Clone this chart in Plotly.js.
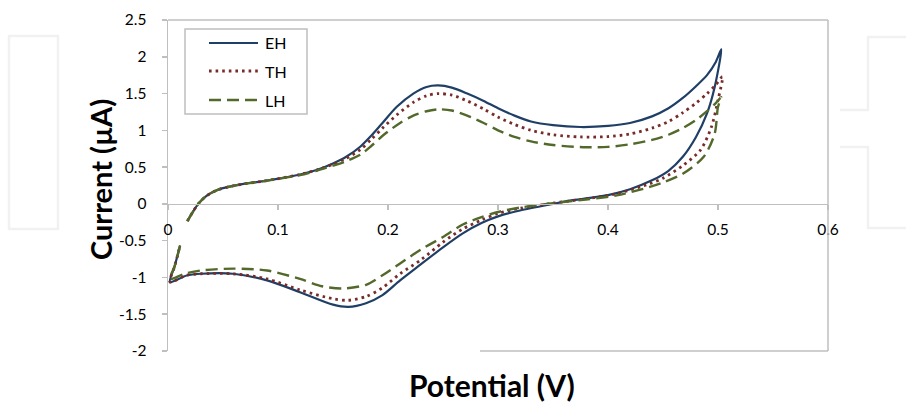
<!DOCTYPE html>
<html>
<head>
<meta charset="utf-8">
<script src="https://cdn.plot.ly/plotly-3.0.1.min.js"></script>
<style>html,body{margin:0;padding:0;background:#fff;}#chart{width:906px;height:402px;}</style>
</head>
<body>
<div id="chart"></div>
<script>
// ---- data (potential in V, current in µA) ----
const seriesNames = ["EH", "TH", "LH"];

const ehV = [0.0176,0.0275,0.035,0.045,0.056,0.070,0.085,0.099,0.120,0.135,0.150,0.162,0.175,0.185,0.195,0.208,0.223,0.235,0.2457,0.258,0.272,0.287,0.300,0.315,0.330,0.350,0.375,0.400,0.420,0.440,0.455,0.468,0.480,0.490,0.498,0.503,
             0.497,0.490,0.480,0.468,0.455,0.440,0.420,0.400,0.368,0.350,0.320,0.300,0.285,0.268,0.250,0.230,0.211,0.195,0.180,0.164,0.150,0.120,0.090,0.059,0.030,0.017,0.0018,0.006,0.011];
const ehI = [-0.234,0.0,0.11,0.19,0.235,0.275,0.305,0.34,0.40,0.46,0.55,0.64,0.78,0.93,1.10,1.32,1.50,1.59,1.61,1.58,1.50,1.40,1.30,1.20,1.12,1.07,1.045,1.06,1.10,1.19,1.30,1.44,1.60,1.75,1.93,2.10,
             1.59,1.23,0.91,0.64,0.45,0.32,0.20,0.12,0.05,0.0,-0.09,-0.17,-0.26,-0.40,-0.59,-0.82,-1.04,-1.24,-1.35,-1.40,-1.37,-1.20,-1.04,-0.95,-0.95,-0.973,-1.064,-0.85,-0.565];

const thV = [0.0176,0.0275,0.035,0.045,0.056,0.070,0.085,0.099,0.120,0.135,0.150,0.162,0.175,0.185,0.195,0.208,0.223,0.235,0.2457,0.258,0.272,0.287,0.300,0.315,0.330,0.350,0.375,0.400,0.420,0.440,0.455,0.468,0.480,0.490,0.498,0.504,
             0.500,0.494,0.484,0.468,0.450,0.438,0.408,0.380,0.350,0.320,0.300,0.285,0.268,0.250,0.230,0.211,0.195,0.180,0.164,0.150,0.120,0.090,0.059,0.030,0.017,0.0018,0.006,0.011];
const thI = [-0.234,0.0,0.11,0.19,0.235,0.275,0.305,0.34,0.40,0.46,0.54,0.62,0.74,0.88,1.03,1.21,1.38,1.47,1.50,1.48,1.40,1.29,1.18,1.08,1.00,0.94,0.91,0.915,0.95,1.03,1.12,1.24,1.37,1.50,1.62,1.73,
             1.41,1.045,0.73,0.52,0.35,0.275,0.14,0.07,0.01,-0.06,-0.13,-0.22,-0.34,-0.52,-0.76,-0.95,-1.14,-1.26,-1.31,-1.29,-1.17,-1.02,-0.95,-0.95,-0.97,-1.06,-0.85,-0.565];

const lhV = [0.0176,0.0275,0.035,0.045,0.056,0.070,0.085,0.099,0.120,0.135,0.150,0.162,0.175,0.185,0.197,0.211,0.223,0.235,0.2457,0.258,0.272,0.287,0.300,0.315,0.330,0.350,0.380,0.400,0.420,0.440,0.455,0.468,0.480,0.490,0.498,0.503,
             0.500,0.497,0.487,0.468,0.450,0.438,0.408,0.380,0.350,0.320,0.300,0.285,0.268,0.250,0.230,0.211,0.195,0.180,0.159,0.140,0.120,0.090,0.060,0.030,0.015,0.0018,0.006,0.011];
const lhI = [-0.234,0.0,0.11,0.19,0.235,0.275,0.305,0.34,0.39,0.45,0.52,0.58,0.67,0.79,0.95,1.10,1.20,1.26,1.285,1.27,1.20,1.10,1.00,0.91,0.85,0.80,0.77,0.775,0.81,0.87,0.94,1.03,1.14,1.26,1.37,1.45,
             1.32,0.955,0.64,0.41,0.29,0.23,0.115,0.06,0.01,-0.05,-0.11,-0.18,-0.28,-0.45,-0.62,-0.81,-0.97,-1.10,-1.15,-1.12,-1.02,-0.905,-0.88,-0.905,-0.95,-1.02,-0.85,-0.565];

const xTickVals = [0, 0.1, 0.2, 0.3, 0.4, 0.5, 0.6];
const xTickText = ["0", "0.1", "0.2", "0.3", "0.4", "0.5", "0.6"];
const yTickVals = [-2, -1.5, -1, -0.5, 0, 0.5, 1, 1.5, 2, 2.5];
const yTickText = ["-2", "-1.5", "-1", "-0.5", "0", "0.5", "1", "1.5", "2", "2.5"];
const xTitle = "Potential (V)";
const yTitle = "Current (µA)";

// ---- styles ----
const colors = ["#1f3f66", "#772c2a", "#53692b"];
const dashes = ["solid", "2.6px,4px", "12px,6px"];
const widths = [2.2, 2.8, 2.4];
const FONT = "Lato, 'Open Sans', 'Liberation Sans', sans-serif";
const W = 906, H = 402, L = 168, R = 828, T = 20, B = 351;
const px = x => (x - L) / (R - L);
const py = y => (B - y) / (B - T);

const xs = [ehV, thV, lhV], ys = [ehI, thI, lhI];
const traces = seriesNames.map((n, i) => ({
  type: "scatter", mode: "lines", name: n, x: xs[i], y: ys[i],
  line: {color: colors[i], width: widths[i], dash: dashes[i], shape: "spline", smoothing: 0.8},
  showlegend: false, hoverinfo: "skip"
}));

const gray = "#bfbfbf";
const shapes = [
  {type: "line", xref: "paper", yref: "paper", x0: 0, x1: 1, y0: 1, y1: 1, line: {color: gray, width: 1.5}},
  {type: "line", xref: "paper", yref: "paper", x0: 1, x1: 1, y0: 0, y1: 1, line: {color: gray, width: 1.5}},
  {type: "line", xref: "paper", yref: "paper", x0: px(480), x1: 1, y0: 0, y1: 0, line: {color: gray, width: 1.5}},
  {type: "rect", xref: "paper", yref: "paper", x0: px(9), x1: px(58), y0: py(36), y1: py(229), line: {color: "#f1f1f1", width: 2.5}},
  {type: "path", xref: "paper", yref: "paper",
   path: `M ${px(906)} ${py(37)} L ${px(868)} ${py(37)} L ${px(868)} ${py(110)} L ${px(840)} ${py(110)} M ${px(840)} ${py(147)} L ${px(868)} ${py(147)} L ${px(868)} ${py(228)} L ${px(906)} ${py(228)}`,
   line: {color: "#f1f1f1", width: 2.5}},
  {type: "rect", xref: "paper", yref: "paper", x0: px(185), x1: px(307), y0: py(114), y1: py(29), line: {color: gray, width: 1.5}, fillcolor: "rgba(255,255,255,1)"}
];
const legY = [43, 71, 100];
const annotations = [];
seriesNames.forEach((n, i) => {
  shapes.push({type: "line", xref: "paper", yref: "paper", x0: px(209), x1: px(258), y0: py(legY[i]), y1: py(legY[i]),
               line: {color: colors[i], width: widths[i], dash: dashes[i]}});
  annotations.push({xref: "paper", yref: "paper", x: px(263), y: py(legY[i]), xanchor: "left", yanchor: "middle",
                    text: n, showarrow: false, font: {family: FONT, size: 16, color: "#000"}});
});
annotations.push({xref: "paper", yref: "paper", x: px(492), y: py(385), xanchor: "center", yanchor: "middle",
                  text: "<b>" + xTitle + "</b>", showarrow: false, font: {family: FONT, size: 30, color: "#000"}});
annotations.push({xref: "paper", yref: "paper", x: px(100), y: py(180), xanchor: "center", yanchor: "middle", textangle: -90,
                  text: "<b>" + yTitle + "</b>", showarrow: false, font: {family: FONT, size: 29, color: "#000"}});

const layout = {
  width: W, height: H,
  margin: {l: L, r: W - R, t: T, b: H - B, pad: 0},
  paper_bgcolor: "#fff", plot_bgcolor: "rgba(0,0,0,0)",
  font: {family: FONT, size: 15, color: "#000"},
  showlegend: false,
  xaxis: {range: [0, 0.6], anchor: "free", position: 2 / 4.5, showgrid: false, zeroline: false,
          showline: true, linecolor: gray, linewidth: 1.5, ticks: "outside", ticklen: 5, tickcolor: gray, tickwidth: 1.5,
          tickvals: xTickVals, ticktext: xTickText, ticklabelstandoff: 6, tickfont: {family: FONT, size: 15.5}},
  yaxis: {range: [-2, 2.5], showgrid: false, zeroline: false,
          showline: true, linecolor: gray, linewidth: 1.5, ticks: "outside", ticklen: 5, tickcolor: gray, tickwidth: 1.5,
          tickvals: yTickVals, ticktext: yTickText, ticklabelstandoff: 12, tickfont: {family: FONT, size: 15.5}},
  shapes: shapes, annotations: annotations
};
Plotly.newPlot("chart", traces, layout, {displayModeBar: false, staticPlot: true});
</script>
</body>
</html>
